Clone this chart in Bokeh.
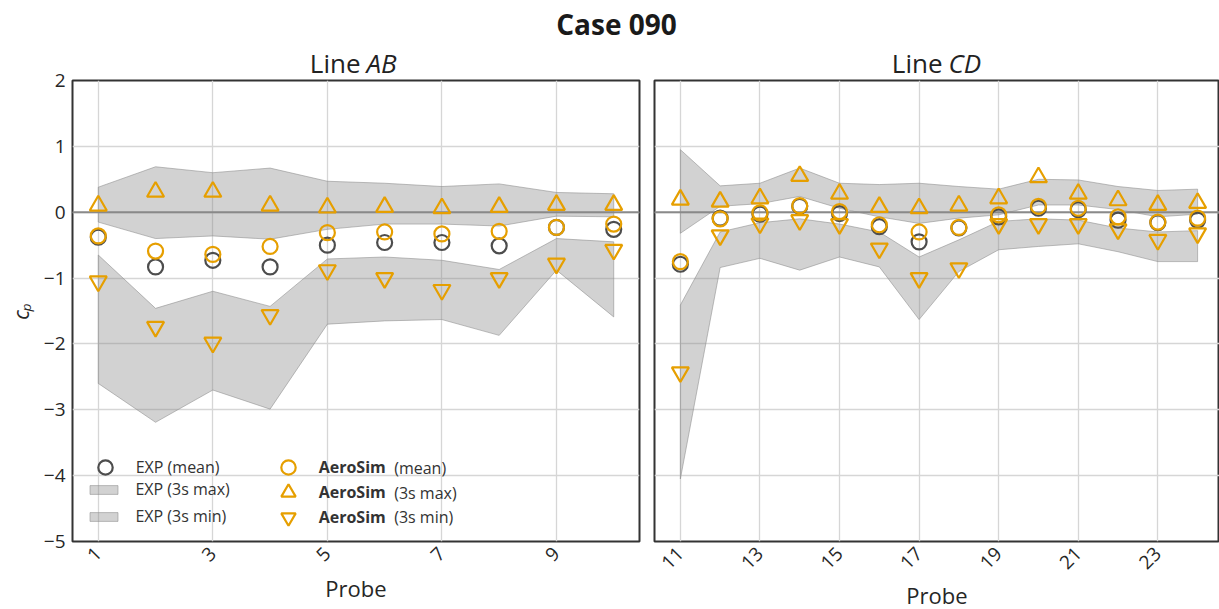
import math
from bokeh.plotting import figure
from bokeh.layouts import column, row
from bokeh.models import FixedTicker, Range1d, Span, Legend, LegendItem, Label
from bokeh.embed import file_html
from bokeh.resources import INLINE

# ---------------- data ----------------
probes_ab = [1, 2, 3, 4, 5, 6, 7, 8, 9, 10]
exp_mean_ab = [-0.38, -0.83, -0.73, -0.83, -0.50, -0.46, -0.46, -0.51, -0.23, -0.26]
exp_max_hi_ab = [0.38, 0.69, 0.60, 0.67, 0.47, 0.44, 0.39, 0.43, 0.30, 0.28]
exp_max_lo_ab = [-0.15, -0.40, -0.36, -0.41, -0.26, -0.18, -0.18, -0.21, -0.06, -0.07]
exp_min_hi_ab = [-0.65, -1.46, -1.20, -1.43, -0.71, -0.68, -0.73, -0.87, -0.40, -0.45]
exp_min_lo_ab = [-2.60, -3.19, -2.70, -2.99, -1.70, -1.65, -1.63, -1.87, -0.88, -1.59]
aero_mean_ab = [-0.36, -0.59, -0.64, -0.52, -0.31, -0.30, -0.33, -0.29, -0.23, -0.18]
aero_max_ab = [0.10, 0.31, 0.31, 0.10, 0.07, 0.08, 0.06, 0.08, 0.11, 0.11]
aero_min_ab = [-1.05, -1.74, -1.98, -1.56, -0.88, -1.00, -1.18, -1.00, -0.78, -0.57]

probes_cd = [11, 12, 13, 14, 15, 16, 17, 18, 19, 20, 21, 22, 23, 24]
exp_mean_cd = [-0.79, -0.09, -0.03, 0.09, -0.02, -0.22, -0.45, -0.24, -0.07, 0.06, 0.04, -0.12, -0.16, -0.12]
exp_max_hi_cd = [0.95, 0.40, 0.44, 0.67, 0.44, 0.42, 0.44, 0.39, 0.35, 0.50, 0.49, 0.39, 0.33, 0.35]
exp_max_lo_cd = [-0.32, 0.09, 0.13, 0.24, 0.06, -0.07, -0.17, -0.09, -0.04, 0.11, 0.11, 0.04, -0.07, -0.03]
exp_min_hi_cd = [-1.41, -0.30, -0.16, -0.10, -0.18, -0.30, -0.68, -0.42, -0.14, -0.10, -0.12, -0.24, -0.30, -0.28]
exp_min_lo_cd = [-4.05, -0.84, -0.70, -0.88, -0.68, -0.83, -1.63, -0.90, -0.57, -0.52, -0.48, -0.60, -0.75, -0.75]
aero_mean_cd = [-0.75, -0.10, -0.01, 0.10, 0.01, -0.19, -0.30, -0.23, -0.04, 0.09, 0.06, -0.07, -0.15, -0.09]
aero_max_cd = [0.19, 0.16, 0.21, 0.55, 0.28, 0.08, 0.06, 0.10, 0.21, 0.53, 0.28, 0.18, 0.11, 0.14]
aero_min_cd = [-2.43, -0.35, -0.17, -0.12, -0.18, -0.55, -1.00, -0.85, -0.18, -0.18, -0.18, -0.26, -0.42, -0.32]

x_ticks_ab = [1, 3, 5, 7, 9]
x_ticks_cd = [11, 13, 15, 17, 19, 21, 23]
y_ticks = [-5, -4, -3, -2, -1, 0, 1, 2]
y_tick_labels = {t: ("\u2212" + str(abs(t)) if t < 0 else str(t)) for t in y_ticks}

# ---------------- style ----------------
FONT = "Open Sans"
ORANGE = "#E69F00"
DARK = "#4d4d4d"
BAND = "#8a8a8a"
TXT = "#262626"
HEAD_H = 81
OVERLAP = 17
FRAME_H = 461
TOP = 16
BOTTOM = 66


def make_panel(probes, exp_mean, max_hi, max_lo, min_hi, min_lo, a_mean, a_max, a_min,
               x_ticks, x_start, x_end, frame_width, b_left, b_right, show_y, xlab_standoff):
    p = figure(frame_width=frame_width, frame_height=FRAME_H,
               min_border_left=b_left, min_border_right=b_right,
               min_border_top=TOP, min_border_bottom=BOTTOM,
               x_range=Range1d(x_start, x_end), y_range=Range1d(-5, 2),
               toolbar_location=None, tools="", output_backend="svg")
    p.background_fill_color = "white"
    p.border_fill_alpha = 0
    p.outline_line_color = "#333333"
    p.outline_line_width = 2

    r_max = p.patch(probes + probes[::-1], max_hi + max_lo[::-1],
                    fill_color=BAND, fill_alpha=0.38, line_color=BAND, line_alpha=0.55, line_width=1)
    r_min = p.patch(probes + probes[::-1], min_hi + min_lo[::-1],
                    fill_color=BAND, fill_alpha=0.38, line_color=BAND, line_alpha=0.55, line_width=1)
    p.add_layout(Span(location=0, dimension="width", line_color="#8a8a8a", line_width=2, level="underlay"))
    r_em = p.scatter(probes, exp_mean, marker="circle", size=15, fill_color=None,
                     line_color=DARK, line_width=2.2)
    r_am = p.scatter(probes, a_mean, marker="circle", size=15, fill_color=None,
                     line_color=ORANGE, line_width=2.2)
    r_ax = p.scatter(probes, a_max, marker="triangle", size=17, fill_color=None,
                     line_color=ORANGE, line_width=2.2)
    r_an = p.scatter(probes, a_min, marker="inverted_triangle", size=17, fill_color=None,
                     line_color=ORANGE, line_width=2.2)

    p.xaxis.ticker = FixedTicker(ticks=x_ticks)
    p.xgrid.ticker = FixedTicker(ticks=x_ticks)
    p.yaxis.ticker = FixedTicker(ticks=y_ticks)
    p.ygrid.ticker = FixedTicker(ticks=y_ticks)
    p.yaxis.major_label_overrides = y_tick_labels
    p.xaxis.major_label_orientation = math.pi / 4
    p.xaxis.axis_label = "Probe"
    p.yaxis.axis_label = "c\u209a"
    for ax in p.axis:
        ax.axis_line_color = None
        ax.major_tick_line_color = None
        ax.minor_tick_line_color = None
        ax.major_tick_out = 0
        ax.major_tick_in = 0
        ax.minor_tick_out = 0
        ax.minor_tick_in = 0
        ax.major_label_text_font = FONT
        ax.major_label_text_font_size = "19px"
        ax.major_label_text_color = TXT
        ax.axis_label_text_font = FONT
        ax.axis_label_text_font_size = "22px"
        ax.axis_label_text_color = TXT
    p.xaxis.axis_label_text_font_style = "normal"
    p.yaxis.axis_label_text_font_style = "italic"
    p.yaxis.axis_label_text_font_size = "21px"
    p.xaxis.major_label_standoff = 9
    p.xaxis.axis_label_standoff = xlab_standoff
    p.yaxis.major_label_standoff = 7
    p.yaxis.axis_label_standoff = 6
    if not show_y:
        p.yaxis.visible = False
    for g in p.grid:
        g.grid_line_color = "#d6d6d6"
        g.grid_line_width = 1.3
    return p, (r_em, r_max, r_min, r_am, r_ax, r_an)


p1, rs1 = make_panel(probes_ab, exp_mean_ab, exp_max_hi_ab, exp_max_lo_ab, exp_min_hi_ab, exp_min_lo_ab,
                     aero_mean_ab, aero_max_ab, aero_min_ab, x_ticks_ab, 0.55, 10.45, 567, 72, 7, True, 3)
p2, rs2 = make_panel(probes_cd, exp_mean_cd, exp_max_hi_cd, exp_max_lo_cd, exp_min_hi_cd, exp_min_lo_cd,
                     aero_mean_cd, aero_max_cd, aero_min_cd, x_ticks_cd, 10.35, 24.55, 565, 8, 0, False, 2)

# legend (bottom-left of the left panel)
r_em, r_max, r_min, r_am, r_ax, r_an = rs1
common = dict(padding=0, margin=0, border_line_color=None, background_fill_alpha=0,
              label_text_font=FONT, label_text_font_size="16px", label_text_color="#333333")
legends = [
    Legend(items=[LegendItem(label="EXP (mean)", renderers=[r_em])], location=(14.7, 55.7),
           glyph_width=36, glyph_height=36, label_standoff=13, **common),
    Legend(items=[LegendItem(label="EXP (3s max)", renderers=[r_max]),
                  LegendItem(label="EXP (3s min)", renderers=[r_min])],
           location=(14.4, 14), glyph_width=35, glyph_height=11, label_height=20,
           spacing=5, label_standoff=14, **common),
    Legend(items=[LegendItem(label="AeroSim", renderers=[r_am])], location=(197.7, 55.7),
           glyph_width=36, glyph_height=36, label_standoff=13, label_text_font_style="bold", **common),
    Legend(items=[LegendItem(label="AeroSim", renderers=[r_ax])], location=(197.7, 31.0),
           glyph_width=36, glyph_height=36, label_standoff=13, label_text_font_style="bold", **common),
    Legend(items=[LegendItem(label="AeroSim", renderers=[r_an])], location=(197.7, 6.3),
           glyph_width=36, glyph_height=36, label_standoff=13, label_text_font_style="bold", **common),
]
for lg in legends:
    p1.add_layout(lg)
for txt, yy in (("(mean)", 73.7), ("(3s max)", 49.0), ("(3s min)", 24.3)):
    p1.add_layout(Label(x=321.7, y=yy, x_units="screen", y_units="screen", text=txt,
                        text_align="left", text_baseline="middle", text_font=FONT,
                        text_font_size="16px", text_color="#333333"))

# header strip: overall title and panel headings
head = figure(width=1219, height=HEAD_H, toolbar_location=None, tools="", output_backend="svg",
              x_axis_location=None, y_axis_location=None, min_border=0,
              outline_line_color=None, x_range=Range1d(0, 1), y_range=Range1d(0, 1))
head.grid.visible = False
head.background_fill_color = "white"
head.border_fill_color = "white"
head.add_layout(Label(x=616, y=HEAD_H - 23, x_units="screen", y_units="screen", text="Case 090",
                      text_align="center", text_baseline="middle", text_font=FONT,
                      text_font_size="28px", text_font_style="bold", text_color="#1a1a1a"))


def heading(cx, word):
    head.add_layout(Label(x=cx - 2, y=HEAD_H - 62, x_units="screen", y_units="screen", text="Line",
                          text_align="right", text_baseline="middle", text_font=FONT,
                          text_font_size="26px", text_color="#222222"))
    head.add_layout(Label(x=cx + 4, y=HEAD_H - 62, x_units="screen", y_units="screen", text=word,
                          text_align="left", text_baseline="middle", text_font=FONT,
                          text_font_size="26px", text_font_style="italic", text_color="#222222"))


heading(362, "AB")
heading(944, "CD")

panels = row(p1, p2, spacing=0, margin=(-OVERLAP, 0, 0, 0))
layout = column(head, panels, spacing=0)
open("out.html", "w").write(file_html(layout, INLINE))
